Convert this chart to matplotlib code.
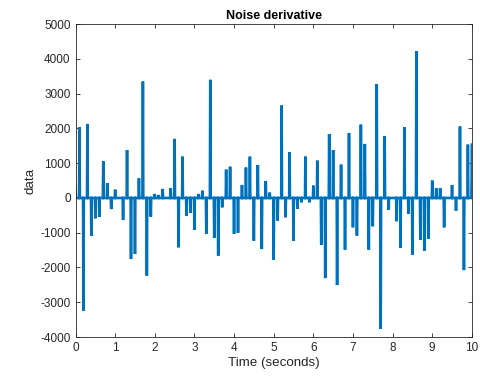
import numpy as np
import matplotlib
matplotlib.use("Agg")
import matplotlib.pyplot as plt

# Spike heights of the derivative, one every 0.1 s
spike_times = np.arange(0, 101) / 10.0
spike_values = [
    350, 2035, -3245, 2130, -1085, -585, -540, 1055, 430, -320,
    240, 0, -635, 1380, -1755, -1610, 565, 3350, -2235, -540,
    115, 85, 260, 0, 280, 1700, -1420, 1190, -510, -430,
    -920, 115, 210, -1035, 3400, -1150, -1660, -270, 815, 900,
    -1035, -1000, 375, 875, 1190, -1230, 950, -1470, 490, 155,
    -1775, -650, 2660, -555, 1315, -1230, -315, -125, 1190, -125,
    355, 1075, -1345, -2305, 1840, 1380, -2505, 960, -1490, 1870,
    -845, -1085, 2110, 1555, -1490, -815, 3280, -3770, 1775, -345,
    0, -670, -1440, 2035, -460, -1640, 4225, -1210, -1515, -1180,
    500, 280, 280, -845, 0, 375, -365, 2055, -2075, 1535,
    1535,
]

title = "Noise derivative"
xlabel = "Time (seconds)"
ylabel = "data"
xticks = list(range(0, 11))
yticks = list(range(-4000, 5001, 1000))

# Fine time grid: derivative is zero except at the 0.1 s steps.
dt = 0.01
t = np.round(np.arange(0, 10 + dt / 2, dt), 4)
y = np.zeros_like(t)
for ts, v in zip(spike_times, spike_values):
    y[np.argmin(np.abs(t - ts))] = v

plt.rcParams['font.family'] = ['Liberation Sans', 'DejaVu Sans']

fig = plt.figure(figsize=(4.81, 3.76), dpi=100)
ax = fig.add_axes([0.157, 0.1037, 0.824, 0.832])

ax.plot(t, y, color='#0072BD', lw=1.9, solid_joinstyle='miter')

ax.set_xlim(0, 10)
ax.set_ylim(-4000, 5000)
ax.set_xticks(xticks)
ax.set_yticks(yticks)
ax.set_xticklabels([str(v) for v in xticks])
ax.set_yticklabels([str(v) for v in yticks])

ax.tick_params(direction='in', top=True, right=True, length=3,
               labelsize=8.5, colors='#262626', width=0.6)
for s in ax.spines.values():
    s.set_color('#262626')
    s.set_linewidth(0.6)

ax.set_title(title, fontsize=9, fontweight='bold', color='black', pad=4)
ax.set_xlabel(xlabel, fontsize=9.6, color='#262626', labelpad=2)
ax.set_ylabel(ylabel, fontsize=9.6, color='#262626', labelpad=3)

fig.savefig('out.png', dpi=100)
